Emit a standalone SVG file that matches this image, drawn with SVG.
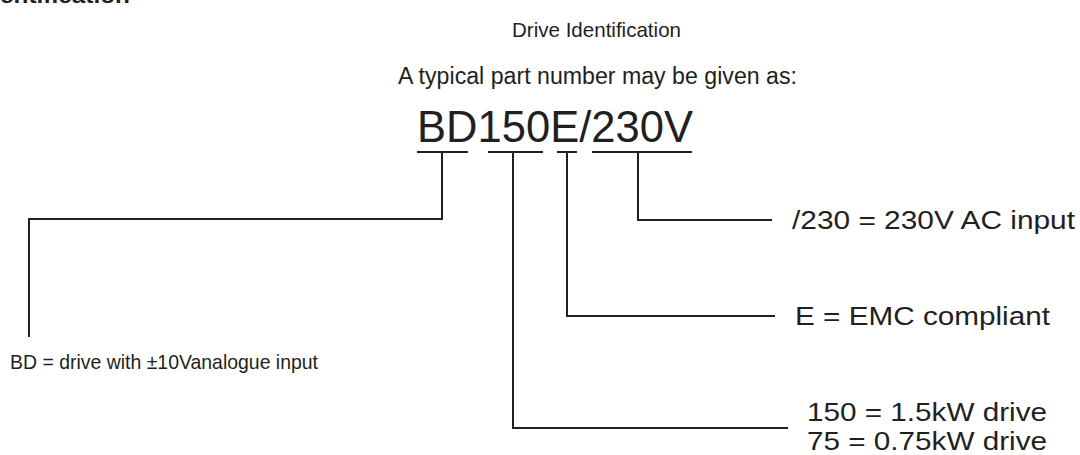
<svg xmlns="http://www.w3.org/2000/svg" width="1080" height="455" viewBox="0 0 1080 455">
<style>
  text { font-family: "Liberation Sans", Arial, sans-serif; fill: #231f20; }
  .lbl { font-size: 25px; }
  .conn { fill: none; stroke: #231f20; stroke-width: 2; }
</style>
<rect width="1080" height="455" fill="#ffffff"/>
<text x="0" y="3" style="font-size:22px;font-weight:bold" textLength="130" lengthAdjust="spacingAndGlyphs">entification</text>
<g id="title">
  <text x="512" y="37" style="font-size:21px" textLength="169" lengthAdjust="spacingAndGlyphs">Drive Identification</text>
  <text x="398" y="84" style="font-size:23.5px" textLength="399" lengthAdjust="spacingAndGlyphs">A typical part number may be given as:</text>
</g>
<g id="partnumber">
  <text x="417" y="142" style="font-size:44px" textLength="276" lengthAdjust="spacingAndGlyphs">BD150E/230V</text>
</g>
<g id="connectors">
  <line class="conn" x1="417" y1="152" x2="468" y2="152"/>
  <line class="conn" x1="488" y1="152" x2="543" y2="152"/>
  <line class="conn" x1="557" y1="152" x2="577" y2="152"/>
  <line class="conn" x1="592" y1="152" x2="692" y2="152"/>
  <path class="conn" d="M442 152 V219 H29 V337"/>
  <path class="conn" d="M513 152 V428 H788"/>
  <path class="conn" d="M567 152 V316 H775"/>
  <path class="conn" d="M638 152 V220 H772"/>
</g>
<g id="label-230">
  <text class="lbl" x="792" y="229" textLength="283" lengthAdjust="spacingAndGlyphs">/230 = 230V AC input</text>
</g>
<g id="label-e">
  <text class="lbl" x="795" y="325" textLength="255" lengthAdjust="spacingAndGlyphs">E = EMC compliant</text>
</g>
<g id="label-bd">
  <text x="10" y="369" style="font-size:21px" textLength="308" lengthAdjust="spacingAndGlyphs">BD = drive with ±10Vanalogue input</text>
</g>
<g id="label-150">
  <text class="lbl" x="807" y="421" textLength="240" lengthAdjust="spacingAndGlyphs">150 = 1.5kW drive</text>
  <text class="lbl" x="807" y="450" textLength="240" lengthAdjust="spacingAndGlyphs">75 = 0.75kW drive</text>
</g>
</svg>
